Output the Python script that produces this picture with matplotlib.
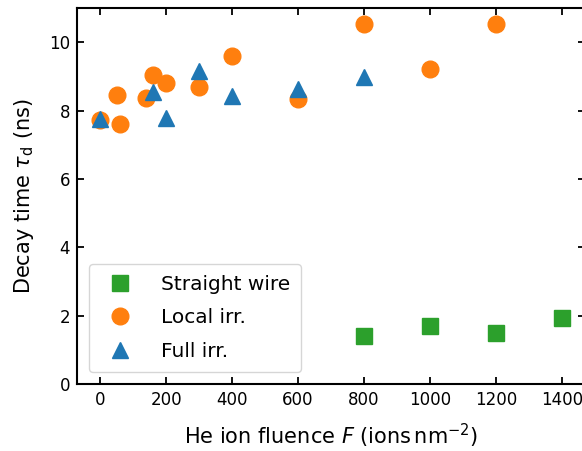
import numpy as np
import matplotlib
matplotlib.use('Agg')
import matplotlib.pyplot as plt

plt.rcParams['font.family'] = 'DejaVu Sans'
plt.rcParams['mathtext.fontset'] = 'dejavusans'
plt.rcParams['font.size'] = 12

# Straight wire
F_wire = [800, 1000, 1200, 1400]
tau_wire = [1.40, 1.71, 1.49, 1.93]

# Local irradiation
F_local = [0, 50, 60, 140, 160, 200, 300, 400, 600, 800, 1000, 1200]
tau_local = [7.72, 8.45, 7.61, 8.36, 9.04, 8.80, 8.69, 9.61, 8.35, 10.53, 9.21, 10.53]

# Full irradiation
F_full = [0, 160, 200, 300, 400, 600, 800]
tau_full = [7.74, 8.54, 7.78, 9.15, 8.42, 8.63, 8.98]

fig = plt.figure(figsize=(5.82, 4.51), dpi=100)
ax = fig.add_axes([77/582, 1-384/451, (585-77)/582, (384-8)/451])

ax.plot(F_wire, tau_wire, 's', color='tab:green', ms=11, label='Straight wire')
ax.plot(F_local, tau_local, 'o', color='tab:orange', ms=12, label='Local irr.')
ax.plot(F_full, tau_full, '^', color='tab:blue', ms=12, label='Full irr.')

ax.set_xlim(-70, 1470)
ax.set_ylim(0, 11)
ax.set_xticks(np.arange(0, 1401, 200))
ax.set_yticks(np.arange(0, 11, 2))
ax.tick_params(direction='in', top=True, right=True, length=5, width=1.3, labelsize=12, pad=5)
for s in ax.spines.values():
    s.set_linewidth(1.5)

ax.set_xlabel(r'He ion fluence $F$ (ions$\,$nm$^{-2}$)', fontsize=15, labelpad=9)
ax.set_ylabel(r'Decay time $\tau_\mathrm{d}$ (ns)', fontsize=15, labelpad=9)
ax.legend(loc='lower left', fontsize=14.5, handletextpad=1.0, borderpad=0.55,
          labelspacing=0.72, borderaxespad=0.6)

fig.savefig('out.png', dpi=100)
